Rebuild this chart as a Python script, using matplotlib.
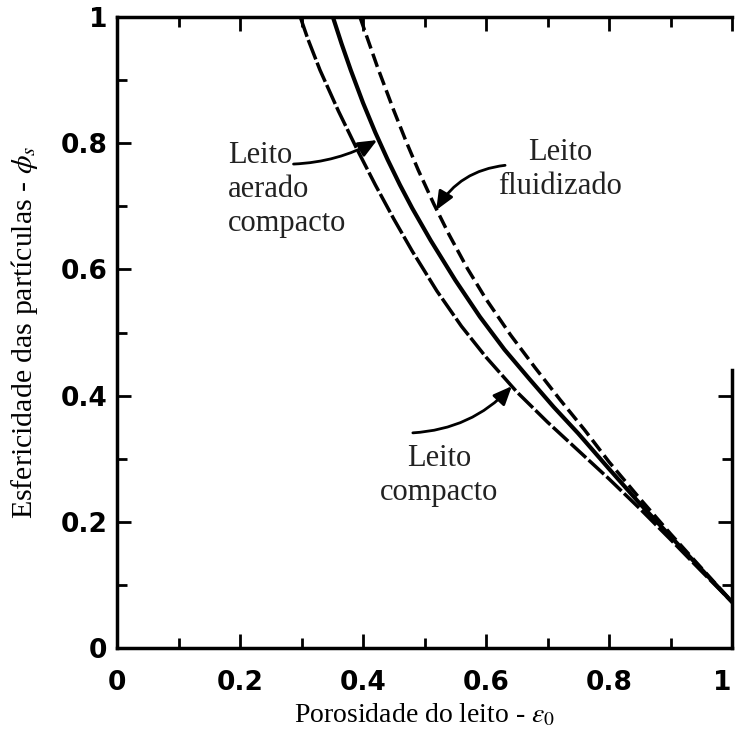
import matplotlib
matplotlib.use("Agg")
import matplotlib.pyplot as plt
from matplotlib.ticker import MultipleLocator
from matplotlib.transforms import ScaledTranslation

# Curvas: porosidade do leito (x) x esfericidade (y)
compacto_x = [0.298, 0.31, 0.33, 0.36, 0.39, 0.42, 0.45, 0.48, 0.52, 0.56,
              0.60, 0.65, 0.70, 0.75, 0.80, 0.85, 0.90, 0.95, 1.0]
compacto_y = [1.0, 0.966, 0.916, 0.851, 0.791, 0.734, 0.680, 0.629, 0.566, 0.510,
              0.461, 0.406, 0.358, 0.313, 0.268, 0.221, 0.172, 0.122, 0.073]

aerado_x = [0.351, 0.365, 0.38, 0.40, 0.42, 0.44, 0.46, 0.48, 0.51, 0.55,
            0.59, 0.63, 0.67, 0.71, 0.75, 0.80, 0.85, 0.90, 0.95, 1.0]
aerado_y = [1.0, 0.958, 0.916, 0.864, 0.817, 0.774, 0.734, 0.697, 0.646, 0.583,
            0.525, 0.473, 0.427, 0.382, 0.340, 0.284, 0.229, 0.177, 0.125, 0.073]

fluidizado_x = [0.395, 0.423, 0.45, 0.47, 0.49, 0.515, 0.54, 0.57, 0.60, 0.64,
                0.68, 0.72, 0.76, 0.80, 0.85, 0.90, 0.95, 1.0]
fluidizado_y = [1.0, 0.922, 0.852, 0.803, 0.757, 0.704, 0.655, 0.601, 0.553, 0.496,
                0.444, 0.394, 0.346, 0.295, 0.237, 0.181, 0.127, 0.073]

x_ticks = [0, 0.2, 0.4, 0.6, 0.8, 1.0]
x_tick_labels = ["0", "0.2", "0.4", "0.6", "0.8", "1"]
y_ticks = [0, 0.2, 0.4, 0.6, 0.8, 1.0]
y_tick_labels = ["0", "0.2", "0.4", "0.6", "0.8", "1"]

SERIF = "Liberation Serif"
plt.rcParams["mathtext.fontset"] = "stix"

fig = plt.figure(figsize=(7.36, 7.31), dpi=100)
ax = fig.add_axes([0.159, 0.1135, 0.8356, 0.8632])

ax.plot(compacto_x, compacto_y, color="black", lw=2.5, linestyle=(0, (6, 1)))
ax.plot(aerado_x, aerado_y, color="black", lw=3)
ax.plot(fluidizado_x, fluidizado_y, color="black", lw=2.5, linestyle=(0, (4, 1.6)))

ax.set_xlim(0, 1)
ax.set_ylim(0, 1)

# rotulos das curvas
txt = dict(fontsize=22, family=SERIF, color="#222222")
ax.text(0.180, 0.727, "Leito\naerado\ncompacto", ha="left", va="center",
        linespacing=1.22, **txt)
ax.text(0.72, 0.759, "Leito\nfluidizado", ha="center", va="center",
        linespacing=1.22, **txt)
ax.text(0.524, 0.274, "Leito\ncompacto", ha="center", va="center",
        linespacing=1.22, **txt)

arrow = dict(arrowstyle="-|>,head_length=0.7,head_width=0.3", color="black",
             lw=2, shrinkA=0, shrinkB=0, mutation_scale=16)
ax.annotate("", xy=(0.423, 0.805), xytext=(0.287, 0.767),
            arrowprops={**arrow, "connectionstyle": "arc3,rad=0.12"})
ax.annotate("", xy=(0.519, 0.694), xytext=(0.631, 0.765),
            arrowprops={**arrow, "connectionstyle": "arc3,rad=0.25"})
ax.annotate("", xy=(0.642, 0.415), xytext=(0.481, 0.341),
            arrowprops={**arrow, "connectionstyle": "arc3,rad=0.2"})

# eixos
ax.set_xticks(x_ticks, x_tick_labels)
ax.set_yticks(y_ticks, y_tick_labels)
ax.xaxis.set_minor_locator(MultipleLocator(0.1))
ax.yaxis.set_minor_locator(MultipleLocator(0.1))
ax.tick_params(which="both", direction="in", top=True, right=True, width=2)
ax.tick_params(which="major", length=10)
ax.tick_params(which="minor", length=7)
ax.tick_params(axis="x", pad=16)
ax.tick_params(axis="y", pad=7)
for lab in ax.get_xticklabels() + ax.get_yticklabels():
    lab.set_fontweight("bold")
    lab.set_fontsize(19)
    lab.set_family("DejaVu Sans")
# o "1" do eixo x fica encostado na borda direita
last = ax.get_xticklabels()[-1]
last.set_transform(last.get_transform() + ScaledTranslation(-7 / 72, 0, fig.dpi_scale_trans))

for side in ["left", "bottom", "top", "right"]:
    ax.spines[side].set_linewidth(2.5)
ax.spines["right"].set_bounds(0, 0.44)
for t in ax.yaxis.get_major_ticks() + ax.yaxis.get_minor_ticks():
    t.tick2line.set_visible(t.get_loc() < 0.45)

ax.set_xlabel(r"Porosidade do leito - $\varepsilon_0$", fontsize=20, family=SERIF)
ax.xaxis.set_label_coords(0.5, -0.085)
ax.set_ylabel(r"Esfericidade das partículas - $\phi_s$", fontsize=21.5, family=SERIF)
ax.yaxis.set_label_coords(-0.125, 0.5)

fig.savefig("out.png", dpi=100)
plt.close(fig)
